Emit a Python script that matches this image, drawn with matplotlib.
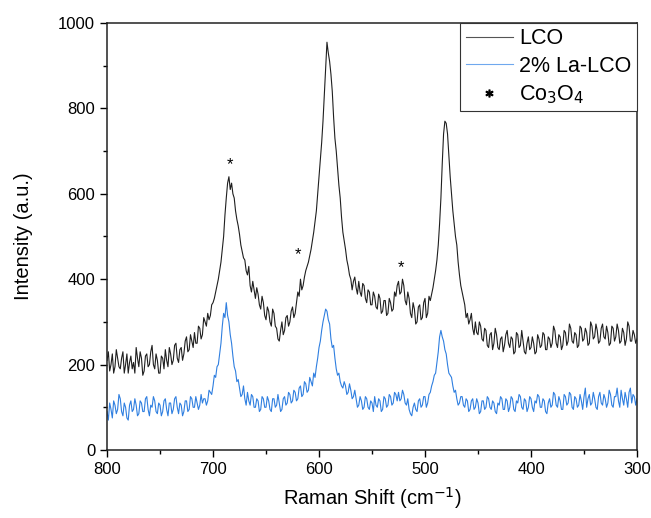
import numpy as np
import matplotlib
matplotlib.use("Agg")
import matplotlib.pyplot as plt
from matplotlib.lines import Line2D

plt.rcParams['font.family'] = ['Liberation Sans', 'DejaVu Sans']

# Intensities, 800 -> 300 cm^-1 in 1.25 cm^-1 steps
lco = [
    210, 230, 185, 200, 225, 180, 195, 235, 215, 195, 190, 215, 230, 180, 200, 225, 180, 205, 220, 190,
    205, 180, 240, 215, 195, 230, 215, 175, 185, 220, 225, 195, 200, 230, 245, 200, 190, 225, 210, 180,
    180, 220, 215, 190, 235, 210, 195, 240, 225, 200, 210, 245, 250, 215, 205, 235, 240, 210, 225, 255,
    265, 230, 235, 270, 255, 240, 275, 250, 250, 290, 285, 260, 270, 310, 300, 290, 320, 305, 315, 340,
    345, 355, 370, 385, 400, 420, 440, 470, 500, 550, 590, 625, 640, 610, 625, 600, 590, 560, 540, 525,
    505, 480, 465, 450, 445, 420, 410, 430, 385, 370, 395, 375, 355, 380, 365, 340, 330, 360, 345, 315,
    305, 335, 325, 300, 290, 330, 320, 290, 285, 260, 255, 280, 300, 270, 280, 310, 315, 290, 300, 325,
    335, 310, 320, 345, 370, 360, 400, 375, 385, 405, 420, 430, 440, 455, 470, 490, 510, 535, 560, 600,
    640, 680, 720, 770, 830, 895, 955, 930, 910, 880, 840, 780, 730, 700, 660, 620, 590, 545, 510, 490,
    470, 445, 430, 410, 400, 375, 395, 405, 380, 365, 395, 370, 360, 390, 385, 355, 345, 375, 370, 340,
    340, 370, 360, 335, 330, 365, 355, 320, 325, 350, 350, 315, 320, 355, 345, 325, 330, 370, 360, 385,
    395, 365, 370, 400, 385, 350, 340, 370, 355, 320, 310, 345, 330, 295, 300, 335, 340, 305, 310, 345,
    355, 310, 320, 360, 350, 365, 380, 400, 420, 445, 480, 530, 590, 670, 740, 770, 765, 740, 690, 640,
    600, 560, 530, 500, 480, 440, 410, 385, 370, 355, 340, 310, 320, 295, 305, 320, 285, 270, 300, 275,
    270, 300, 290, 260, 255, 285, 280, 245, 240, 270, 275, 235, 250, 285, 270, 240, 235, 260, 265, 230,
    245, 270, 280, 250, 240, 265, 260, 225, 230, 275, 270, 240, 245, 280, 255, 230, 225, 250, 265, 235,
    240, 265, 250, 225, 230, 270, 260, 240, 245, 275, 270, 235, 235, 265, 260, 240, 250, 290, 280, 250,
    240, 270, 265, 235, 245, 280, 275, 245, 255, 295, 285, 255, 250, 275, 270, 240, 245, 290, 285, 255,
    260, 285, 275, 245, 250, 300, 290, 260, 265, 295, 280, 250, 255, 285, 295, 265, 260, 290, 275, 245,
    250, 290, 285, 255, 265, 295, 280, 250, 255, 285, 275, 245, 260, 300, 290, 255, 255, 280, 270, 250,
    260,
]

la_lco = [
    90, 70, 110, 95, 75, 115, 105, 85, 95, 130, 120, 90, 80, 110, 100, 75, 70, 105, 115, 90,
    95, 120, 105, 80, 85, 115, 110, 90, 90, 120, 125, 95, 80, 105, 100, 125, 115, 90, 85, 110,
    105, 80, 90, 115, 120, 95, 80, 110, 110, 85, 95, 120, 125, 100, 85, 110, 105, 80, 90, 115,
    115, 90, 95, 125, 120, 100, 100, 125, 110, 95, 105, 130, 110, 120, 120, 105, 115, 140, 135, 130,
    150, 175, 170, 195, 200, 225, 250, 290, 320, 310, 345, 315, 300, 270, 250, 220, 195, 185, 160, 165,
    145, 125, 130, 150, 120, 105, 135, 115, 105, 130, 125, 100, 100, 120, 115, 90, 95, 125, 120, 100,
    100, 125, 115, 95, 90, 120, 120, 100, 105, 130, 110, 90, 95, 120, 125, 105, 110, 135, 130, 110,
    115, 140, 135, 115, 120, 145, 150, 125, 130, 160, 155, 135, 140, 170, 160, 150, 180, 170, 195, 215,
    240, 255, 280, 300, 315, 330, 325, 305, 295, 260, 240, 245, 215, 190, 175, 180, 160, 150, 145, 160,
    150, 130, 135, 155, 140, 120, 125, 140, 120, 100, 105, 125, 115, 95, 100, 125, 120, 100, 95, 115,
    110, 90, 125, 105, 100, 120, 115, 90, 95, 125, 120, 100, 105, 130, 125, 105, 110, 135, 130, 115,
    135, 115, 120, 140, 130, 110, 105, 120, 95, 85, 80, 100, 110, 95, 90, 115, 120, 100, 105, 125,
    125, 100, 110, 130, 135, 150, 160, 175, 180, 205, 230, 265, 280, 265, 255, 235, 225, 200, 180, 175,
    170, 150, 135, 140, 120, 105, 110, 125, 125, 105, 100, 120, 115, 90, 95, 115, 120, 95, 100, 120,
    110, 85, 90, 115, 115, 95, 100, 125, 120, 100, 95, 115, 110, 90, 85, 110, 105, 125, 120, 95,
    95, 120, 115, 90, 100, 125, 120, 95, 90, 115, 110, 130, 125, 100, 95, 120, 115, 90, 100, 125,
    120, 100, 90, 115, 110, 130, 125, 100, 100, 120, 115, 90, 85, 110, 120, 100, 105, 135, 130, 105,
    100, 125, 115, 95, 95, 130, 125, 105, 110, 135, 130, 100, 95, 125, 120, 100, 105, 130, 115, 95,
    125, 145, 100, 120, 130, 105, 110, 135, 120, 100, 95, 125, 135, 110, 105, 130, 120, 100, 110, 140,
    130, 105, 100, 125, 125, 145, 115, 100, 140, 120, 105, 135, 120, 100, 135, 145, 110, 130, 125, 105,
    120,
]

shift_lco = np.linspace(800, 300, len(lco))
shift_la = np.linspace(800, 300, len(la_lco))

# Co3O4 markers (position, height)
star_x = [684, 620, 523]
star_y = [650, 440, 410]

series_labels = ["LCO", "2% La-LCO", "Co$_3$O$_4$"]
x_ticks = [800, 700, 600, 500, 400, 300]
y_ticks = [0, 200, 400, 600, 800, 1000]

fig = plt.figure(figsize=(6.51, 5.18), dpi=100)
ax = fig.add_axes([0.1644, 0.1313, 0.8141, 0.8243])

ax.plot(shift_lco, lco, color='#1f1f1f', lw=0.8)
ax.plot(shift_la, la_lco, color='#2f7fe0', lw=0.8)
for sx, sy in zip(star_x, star_y):
    ax.text(sx, sy, '*', ha='center', va='bottom', fontsize=12, color='black')

ax.set_xlim(800, 300)
ax.set_ylim(0, 1000)
ax.set_xticks(x_ticks)
ax.set_yticks(y_ticks)
ax.set_xticks([750, 650, 550, 450, 350], minor=True)
ax.set_yticks([100, 300, 500, 700, 900], minor=True)
ax.tick_params(which='major', direction='out', length=5, width=1, labelsize=12, colors='black')
ax.tick_params(which='minor', direction='out', length=3, width=1)
for s in ax.spines.values():
    s.set_linewidth(1.1)
    s.set_color('#222222')

ax.set_xlabel("Raman Shift (cm$^{-1}$)", fontsize=14.5, labelpad=6)
ax.set_ylabel("Intensity (a.u.)", fontsize=14.5, labelpad=18)

handles = [
    Line2D([], [], color='#555555', lw=0.8),
    Line2D([], [], color='#6fa8ee', lw=0.8),
    Line2D([], [], color='black', marker='$*$', ls='none', markersize=5),
]
leg = ax.legend(handles, series_labels, loc='upper right', borderaxespad=0,
                fontsize=15.5, fancybox=False, framealpha=1, edgecolor='#333333',
                handlelength=2.2, handletextpad=0.3, labelspacing=0.3,
                borderpad=0.25)
leg.get_frame().set_linewidth(0.8)

fig.savefig("out.png", dpi=100)
